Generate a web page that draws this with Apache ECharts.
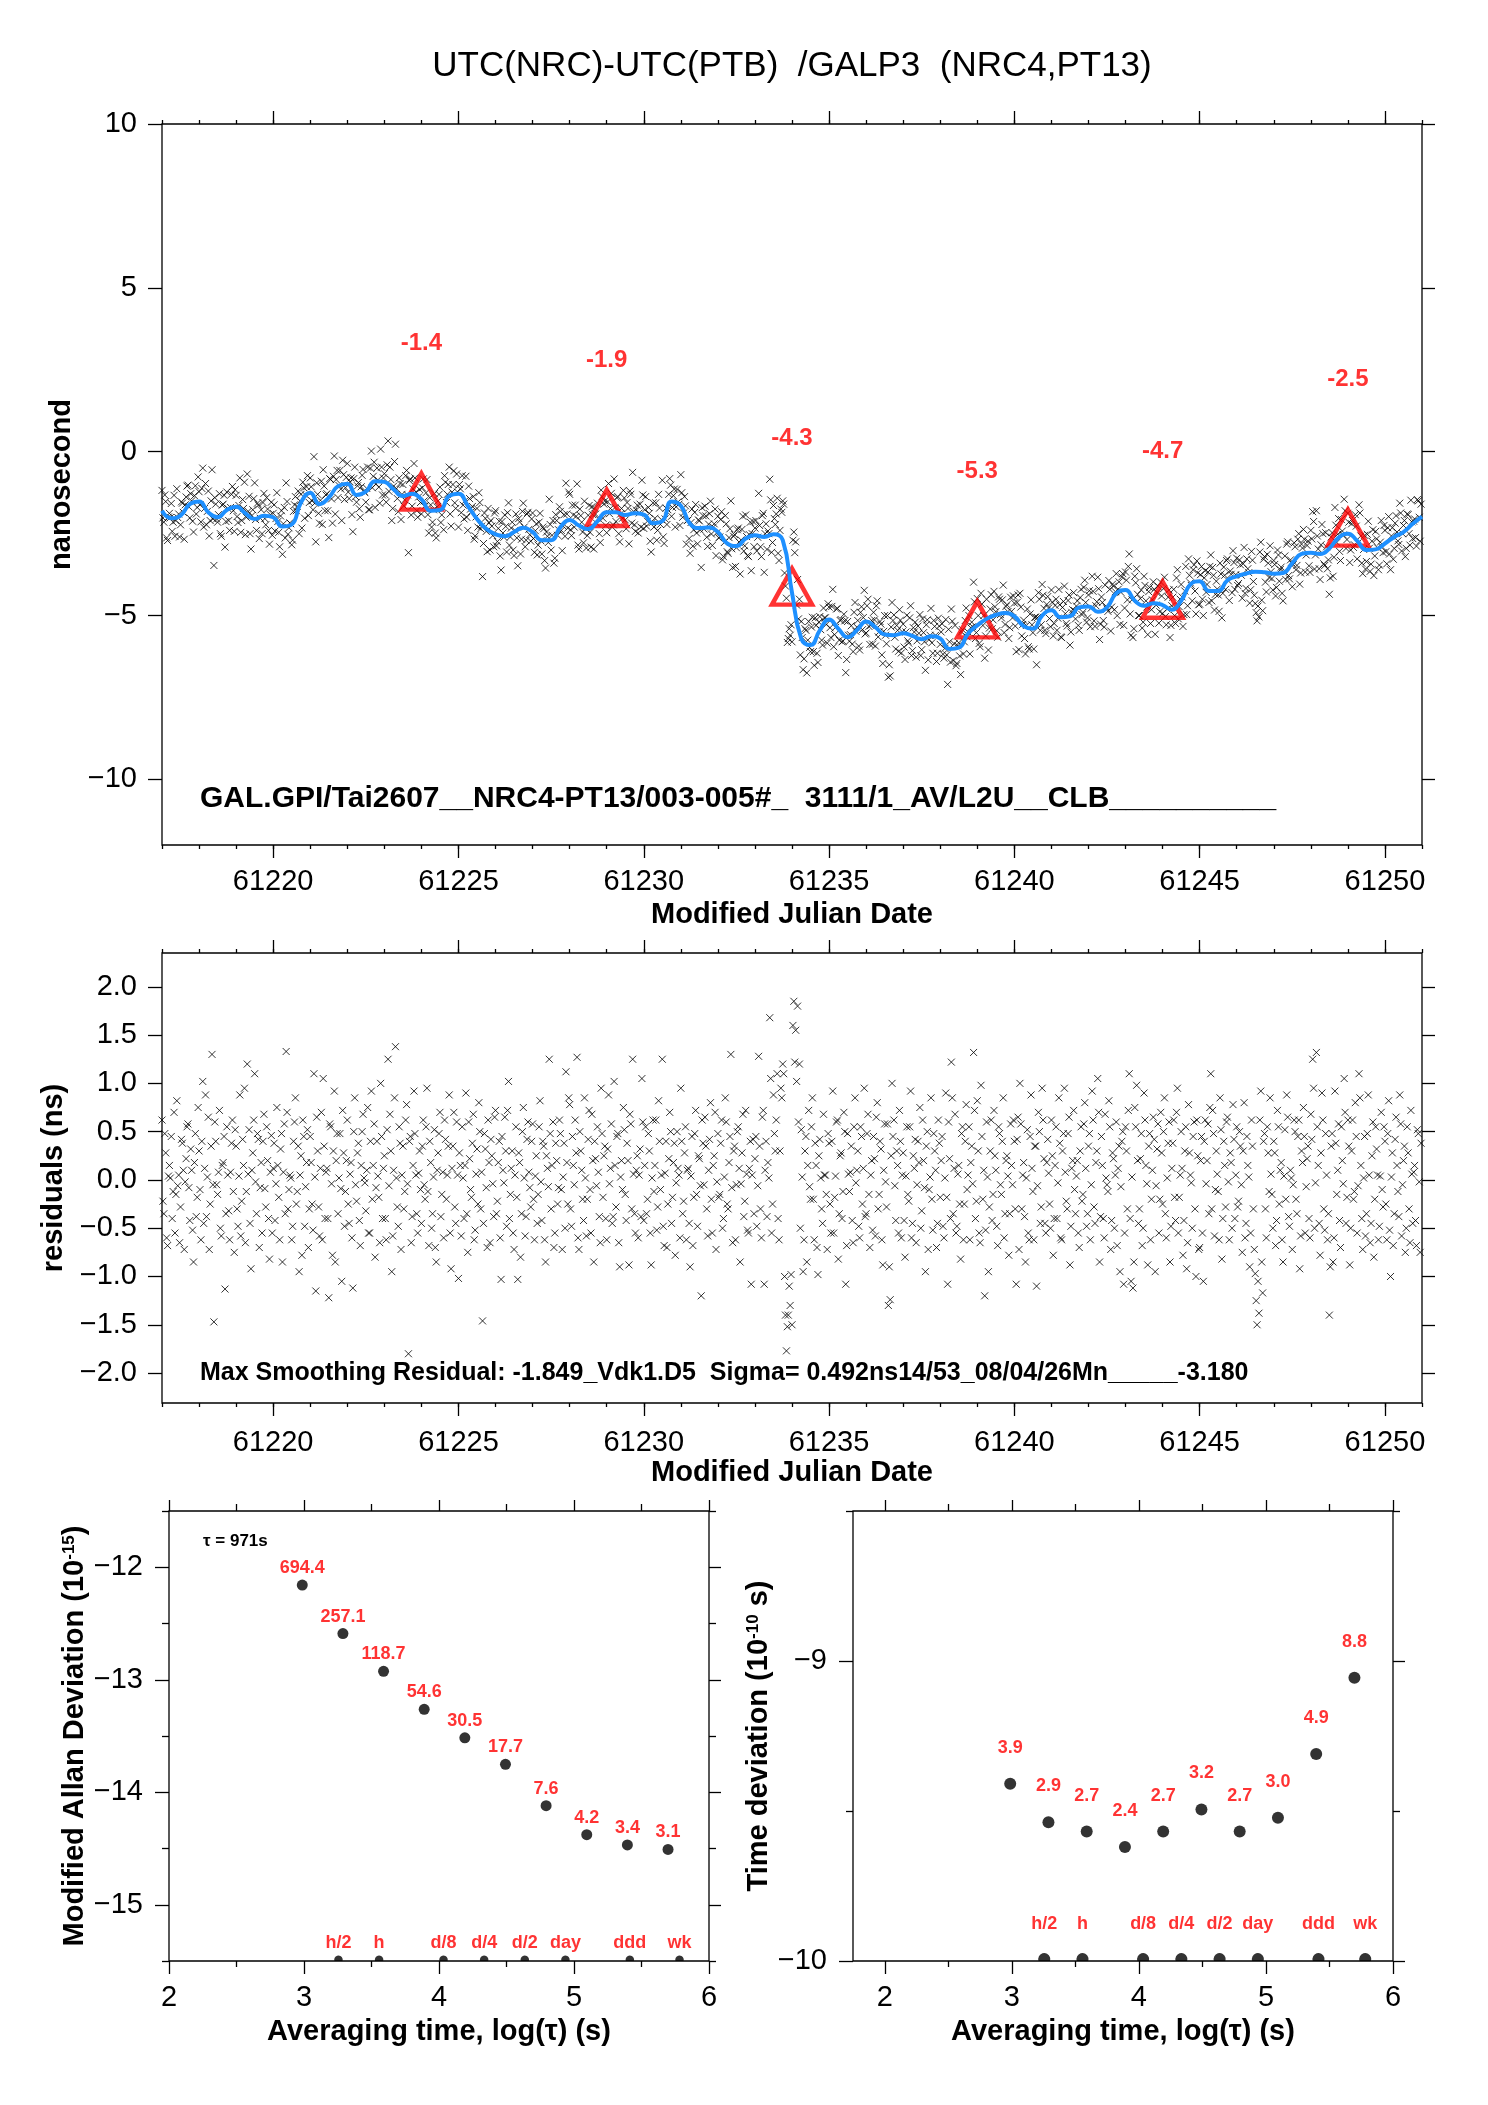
<!DOCTYPE html>
<html>
<head>
<meta charset="utf-8">
<script src="https://cdn.jsdelivr.net/npm/echarts@6.0.0/dist/echarts.min.js"></script>
<style>
  html, body { margin: 0; padding: 0; background: #fff; }
  #chart { width: 1488px; height: 2105px; }
</style>
</head>
<body>
<div id="chart"></div>
<script>
const FONT = '"Liberation Sans", Arial, Helvetica, sans-serif';

// sampling of the time series (MJD days)
const mjdStart = 61217;
const rawStep = 0.05;     // residual epochs: mjdStart + i*rawStep
const midShift = 0.025;   // second set of epochs, half a step later
const smoothStep = 0.25;

// smoothed UTC(NRC)-UTC(PTB), ns, one row per day
const smoothNs = [
  -1.80, -2.03, -1.95, -1.60,
  -1.52, -1.85, -2.00, -1.78,
  -1.68, -1.88, -2.05, -1.95,
  -2.00, -2.28, -2.22, -1.55,
  -1.25, -1.60, -1.40, -1.05,
  -0.98, -1.32, -1.22, -0.90,
  -0.92, -1.15, -1.35, -1.28,
  -1.45, -1.80, -1.78, -1.35,
  -1.28, -1.65, -2.05, -2.35,
  -2.52, -2.58, -2.45, -2.32,
  -2.45, -2.70, -2.70, -2.30,
  -2.08, -2.25, -2.36, -2.12,
  -1.85, -1.85, -1.93, -1.88,
  -1.92, -2.18, -2.12, -1.52,
  -1.65, -2.20, -2.33, -2.31,
  -2.45, -2.80, -2.88, -2.65,
  -2.55, -2.60, -2.52, -2.70,
  -4.30, -5.70, -5.90, -5.45,
  -5.12, -5.40, -5.66, -5.45,
  -5.18, -5.35, -5.58, -5.60,
  -5.54, -5.62, -5.72, -5.63,
  -5.70, -6.02, -5.98, -5.55,
  -5.30, -5.10, -4.98, -4.92,
  -5.02, -5.32, -5.40, -5.00,
  -4.84, -5.05, -5.02, -4.75,
  -4.72, -4.88, -4.75, -4.32,
  -4.22, -4.55, -4.70, -4.62,
  -4.68, -4.82, -4.55, -4.05,
  -3.95, -4.25, -4.25, -3.92,
  -3.80, -3.72, -3.66, -3.68,
  -3.72, -3.70, -3.40, -3.12,
  -3.08, -3.12, -2.95, -2.62,
  -2.50, -2.72, -3.00, -2.98,
  -2.80, -2.60, -2.45, -2.20,
  -1.98
];

// smoothing residuals, ns, one row per day (20 samples)
const residualNs = [
  0.62, -0.35, 0.28, -0.68, 0.15, 0.45, -0.12, -0.55, 0.82, 0.05, -0.28, 0.38, -0.72, 0.22, 0.58, -0.42, 0.10, -0.85, 0.48, -0.18,
  0.30, -0.62, 1.02, 0.12, -0.38, 0.65, -0.25, 1.30, -1.47, 0.40, -0.15, 0.72, -0.58, 0.18, -1.13, 0.55, -0.32, 0.08, 0.62, -0.75,
  0.35, -0.48, 0.88, -0.22, 0.15, -0.65, 1.20, 0.52, -0.92, 0.28, 1.10, -0.35, 0.42, -0.08, -0.55, 0.68, -0.28, 0.20, -0.82, 0.46,
  0.12, -0.42, 0.75, -0.18, 0.32, -0.85, 0.58, 1.33, -0.30, 0.05, -0.62, 0.40, 0.85, -0.12, -0.95, 0.25, 0.62, -0.48, 0.18, -0.70,
  0.45, -0.25, 1.10, -1.15, 0.30, -0.58, 0.70, 1.05, -0.40, 0.12, -1.22, 0.55, -0.78, 0.92, 0.20, -0.35, 0.48, -1.05, 0.28, -0.12,
  0.62, -0.45, 0.18, -1.12, 0.85, -0.22, 0.38, -0.68, 0.50, 0.02, -0.32, 0.75, -0.55, 0.92, 0.15, -0.80, 0.40, -0.18, 1.00, -0.40,
  0.25, -0.62, 1.25, 0.68, -0.95, 0.10, 1.38, -0.28, 0.55, -0.72, 0.35, -0.12, 0.78, -1.80, 0.45, -0.38, 0.92, 0.05, -0.55, 0.30,
  -0.45, 0.62, -0.20, 0.95, -0.68, 0.18, -0.35, 0.52, -0.85, 0.28, 0.70, -0.15, -0.60, 0.42, 0.05, 0.88, -0.92, 0.35, -0.28, 0.60,
  -1.02, 0.15, 0.55, -0.40, 0.90, -0.75, 0.22, -0.18, 0.68, -0.52, 0.32, 0.80, -0.30, -1.46, 0.48, -0.08, 0.62, -0.65, 0.25, -0.38,
  0.72, -0.22, 0.40, -1.03, 0.10, 0.65, -0.48, 1.02, -0.15, 0.30, -0.72, 0.55, -1.03, 0.18, -0.35, 0.75, -0.58, 0.42, 0.08, -0.28,
  0.58, -0.62, 0.25, -0.15, 0.82, -0.42, 0.35, -0.85, 0.12, 1.25, -0.30, 0.60, -0.55, 0.20, -0.08, 0.48, -0.72, 0.38, 1.12, -0.25,
  0.78, -0.48, 0.15, 0.62, 1.27, -0.72, 0.30, -0.20, 0.85, -0.58, 0.42, -0.10, 0.68, -0.85, 0.22, 0.55, -0.38, 0.95, -0.18, 0.35,
  -0.62, 0.88, 0.12, -0.45, 1.02, -0.28, 0.48, -0.90, 0.20, 0.75, -0.15, 0.38, -0.88, 0.58, 1.25, -0.35, 0.10, -0.60, 0.32, 1.05,
  -0.42, 0.55, -0.20, 0.30, -0.88, 0.62, 0.15, -0.52, 0.82, -0.10, 1.25, -0.68, 0.40, -0.25, 0.70, -0.45, 0.18, -0.78, 0.50, 0.05,
  0.95, -0.35, 0.28, -0.62, 0.12, -0.90, 0.45, -0.18, 0.72, -0.48, 0.22, -1.20, 0.38, 0.65, -0.30, 0.10, 0.80, -0.55, 0.25, -0.72,
  0.48, -0.15, 0.62, -0.40, 0.85, -0.25, 0.18, 1.30, -0.65, 0.35, -0.05, 0.55, -0.85, 0.28, -0.38, 0.72, -0.52, 0.12, -1.08, 0.42,
  0.22, -0.48, 1.28, -0.30, 0.65, -1.08, 0.40, 0.18, 1.68, -0.55, 0.88, 0.30, 1.10, -0.62, 0.95, 1.20, -1.00, -1.77, -1.40, -1.30,
  -1.50, 1.85, 1.55, 1.80, 1.20, 0.52, -0.95, 0.30, -0.85, 0.72, -0.20, 0.85, -0.62, 0.15, -0.98, 0.42, -0.30, 0.68, 0.05, -0.72,
  0.38, -0.55, 0.92, -0.18, 0.60, -0.82, 0.25, -0.40, 0.70, -1.08, 0.48, -0.12, 0.35, -0.65, 0.85, 0.10, -0.48, 0.55, -0.25, 0.95,
  -0.35, 0.68, -0.70, 0.20, 0.45, -0.58, 0.80, -0.15, 0.32, -0.88, 0.58, -0.28, -1.30, -1.24, 1.00, 0.62, -0.42, 0.15, 0.72, -0.60,
  0.28, -0.80, 0.55, -0.22, 0.92, -0.45, 0.12, -0.65, 0.40, 0.75, -0.32, 0.20, -0.95, 0.50, -0.10, 0.85, -0.52, 0.30, -0.70, 0.62,
  -0.18, 0.45, -0.60, 0.90, -1.08, 0.22, 1.22, -0.35, 0.68, -0.48, 0.15, -0.82, 0.55, -0.25, 0.78, 0.05, -0.62, 0.35, 1.32, -0.40,
  0.82, -0.55, 0.98, -0.20, -1.20, 0.60, -0.95, 0.30, -0.42, 0.72, 0.10, -0.68, 0.48, -0.15, 0.85, -0.35, 0.25, -0.78, 0.58, -0.05,
  0.40, -1.08, 0.65, 1.00, -0.30, 0.18, -0.85, 0.52, -0.62, 0.88, -0.12, 0.35, -1.10, 0.70, -0.45, 0.95, 0.22, -0.55, 0.42, -0.25,
  0.62, -0.78, 0.15, -0.40, 0.85, -0.60, 0.30, 0.95, -0.22, 0.48, -0.88, 0.12, 0.72, -0.35, 0.20, -0.70, 0.55, -0.15, 0.80, -0.48,
  0.35, -0.62, 0.92, -0.28, 0.18, 1.05, -0.85, 0.45, -0.40, 0.68, -0.05, 0.82, -0.72, 0.28, -0.50, 0.60, 0.12, -0.95, 0.40, -1.08,
  0.55, -0.30, 1.10, -1.05, -1.12, 0.75, 0.98, -0.45, 0.22, -0.68, 0.90, 0.15, -0.88, 0.48, -0.20, 0.65, -0.95, 0.32, -0.55, 0.70,
  -0.25, 0.85, -0.60, 0.38, -0.85, 0.12, 0.62, -0.42, 0.95, -0.18, 0.50, -0.78, 0.30, -0.92, 0.78, 0.05, -0.50, 0.60, -1.00, 0.25,
  -0.70, 0.45, -1.05, 0.62, 0.20, -0.35, 1.10, 0.72, -0.58, 0.30, -0.12, 0.85, -0.82, 0.40, -0.28, 0.65, -0.62, 0.18, 0.78, -0.40,
  0.55, -0.22, 0.35, -0.75, 0.80, -0.45, 0.15, -0.90, 0.62, -0.30, -0.97, -1.50, -1.38, 0.92, -1.17, 0.48, -0.60, 0.28, 0.85, -0.15,
  0.40, -0.68, 0.72, -0.25, 0.18, -0.85, 0.52, 0.88, -0.38, 0.10, -0.72, 0.62, -0.20, 0.45, -0.92, 0.30, 0.75, -0.55, 0.22, -0.40,
  0.68, 1.25, -0.50, 1.32, 0.15, -0.78, 0.90, -0.30, 0.48, -0.62, -1.40, 0.35, -0.85, 0.92, -0.15, 0.58, -0.70, 0.20, 1.05, -0.45,
  0.62, -0.88, 0.30, -0.20, 0.80, -0.55, 1.10, 0.15, -0.72, 0.45, -0.35, 0.88, -0.65, 0.25, -0.80, 0.55, 0.05, -0.48, 0.70, -0.28,
  0.40, -0.62, 0.82, -1.00, 0.28, -0.35, 0.65, -0.12, 0.88, -0.58, 0.20, -0.75, 0.55, -0.30, 0.72, -0.45, 0.15, -0.68, 0.48, -0.75
];

// residuals at the in-between epochs, ns, one row per day
const residualMidNs = [
  -0.22, 0.48, -0.60, 0.04, 0.02, -0.40, 0.70, -0.15, -0.06, -0.65, 0.42, 0.10, -0.02, 0.55, -0.08, 0.32, -0.52, 0.18, -0.38, 0.75,
  -0.10, 0.40, -0.45, 0.88, 0.03, -0.72, 0.35, -0.05, 0.60, -0.05, 0.08, -0.50, 0.15, 0.45, -0.35, 0.05, -0.62, 0.38, -0.12, 0.52,
  -0.30, 0.04, -0.58, 0.42, 0.95, -0.12, 0.06, -0.45, 0.10, 0.62, -0.02, 0.48, -0.70, 0.18, 0.40, -0.09, 0.55, -0.40, 0.08, -0.55,
  0.38, -0.04, 0.15, -0.62, 0.48, 0.08, -0.35, 0.70, -0.10, 0.02, -0.48, 0.60, -0.25, 0.35, 0.05, -0.78, 0.45, -0.07, 0.52, -0.30,
  0.18, -0.52, 0.03, 0.65, -0.28, 0.12, -0.62, 0.35, 0.08, -0.40, 0.58, -0.04, 0.30, -0.85, 0.48, 0.02, -0.09, 0.72, -0.48, 0.20,
  -0.25, 0.06, -0.60, 0.50, -0.05, 0.28, -0.42, 0.15, 0.68, -0.03, 0.10, -0.55, 0.40, -0.20, 0.58, -0.08, 0.04, -0.65, 0.45, 0.12,
  -0.40, 0.52, -0.06, 0.30, -0.58, 0.85, 0.02, -0.48, 0.38, 0.05, -0.30, 0.62, -0.04, 0.40, -0.65, 0.15, 0.48, -0.35, 0.07, -0.10,
  0.35, -0.05, 0.55, -0.12, 0.40, -0.50, 0.03, -0.70, 0.10, 0.48, -0.38, 0.08, 0.62, -0.20, 0.35, -0.55, 0.12, 0.70, -0.45, 0.05,
  0.28, -0.58, 0.02, 0.15, -0.35, 0.60, -0.10, 0.38, -0.62, 0.06, -0.25, 0.50, 0.08, -0.45, 0.32, -0.70, 0.18, 0.42, -0.04, 0.65,
  -0.35, 0.18, -0.60, 0.45, -0.03, 0.30, 0.72, -0.40, 0.12, -0.55, 0.05, -0.18, 0.28, -0.80, 0.50, 0.02, -0.38, 0.60, -0.08, 0.40,
  -0.20, 0.04, -0.45, 0.55, -0.02, 0.40, -0.62, 0.25, -0.07, 0.48, 0.15, -0.70, 0.38, -0.25, 0.62, -0.10, 0.03, -0.50, 0.18, 0.85,
  -0.30, 0.45, -0.05, 0.28, -0.60, 0.50, 0.10, -0.42, 0.02, -0.20, 0.72, -0.55, 0.20, 0.40, -0.06, 0.08, -0.65, 0.48, 0.25, -0.40,
  0.32, -0.04, 0.58, -0.38, 0.15, 0.45, -0.65, 0.03, -0.10, 0.52, -0.42, 0.20, 0.68, -0.30, 0.06, -0.55, 0.25, 0.05, -0.38, 0.60,
  0.15, -0.35, 0.48, -0.55, 0.02, -0.12, 0.62, -0.28, 0.40, 0.05, -0.48, 0.07, -0.70, 0.22, 0.50, -0.18, 0.38, -0.03, 0.12, -0.60,
  0.40, -0.22, 0.55, 0.10, -0.45, 0.04, -0.68, 0.48, -0.15, 0.25, -0.06, 0.62, -0.05, 0.35, -0.58, 0.42, -0.20, 0.15, 0.70, -0.02,
  -0.18, 0.38, -0.50, 0.03, 0.60, -0.30, 0.45, -0.08, 0.30, -0.62, 0.50, 0.12, -0.04, 0.68, -0.22, 0.06, -0.55, 0.40, 0.05, -0.35,
  0.45, -0.06, 0.35, -0.60, 0.72, 0.10, -0.38, 0.02, 1.05, -0.25, 0.48, 0.62, -0.40, 0.30, 0.85, 1.10, -1.40, -1.52, -1.10, -0.98,
  1.60, 1.22, 1.02, 0.60, -0.50, 0.03, -0.62, 0.45, 0.15, -0.07, 0.55, -0.20, 0.38, -0.70, 0.25, 0.02, -0.45, 0.05, -0.15, 0.48,
  -0.25, 0.40, -0.55, 0.04, 0.62, -0.35, 0.28, -0.12, 0.50, -0.68, 0.06, 0.08, -0.42, 0.55, -0.03, 0.30, -0.60, 0.45, 0.12, -0.38,
  0.48, -0.15, 0.05, -0.52, 0.22, 0.65, -0.30, 0.40, -0.62, 0.10, -0.02, 0.58, -0.90, 0.25, 0.45, -0.06, 0.30, -0.55, 0.40, 0.05,
  -0.42, 0.04, -0.15, 0.55, -0.60, 0.25, 0.42, -0.05, 0.18, -0.50, 0.62, -0.08, 0.35, -0.72, 0.03, -0.20, 0.48, 0.10, -0.45, 0.38,
  0.20, -0.48, 0.02, -0.18, 0.60, -0.40, 0.85, 0.12, -0.55, 0.06, -0.25, 0.48, -0.62, 0.40, -0.10, 0.55, 0.18, -0.04, 0.72, -0.22,
  0.30, -0.65, 0.45, 0.10, -0.52, 0.03, -0.28, 0.62, -0.15, 0.25, -0.48, 0.55, -0.05, 0.40, -0.60, 0.20, 0.04, -0.35, 0.15, 0.62,
  -0.30, 0.42, -0.72, 0.58, 0.05, -0.38, 0.02, -0.55, 0.45, 0.12, -0.62, 0.35, -0.06, 0.50, -0.28, 0.62, -0.45, 0.18, 0.07, -0.50,
  0.25, -0.40, 0.55, -0.03, 0.38, -0.62, 0.48, 0.08, -0.30, 0.65, -0.48, 0.20, -0.10, 0.04, -0.55, 0.30, -0.22, 0.58, 0.12, -0.35,
  0.48, -0.05, 0.62, -0.45, 0.30, 0.70, -0.38, 0.15, -0.60, 0.02, -0.12, 0.55, -0.42, 0.22, 0.05, -0.68, 0.35, -0.07, 0.50, -0.55,
  0.30, 0.72, -0.40, 0.03, -0.85, 0.55, 0.20, -0.30, 0.48, -0.50, 0.62, -0.04, 0.35, -0.62, 0.10, 0.42, -0.06, 0.58, -0.20, 0.28,
  0.50, -0.35, 0.02, 0.60, -0.48, 0.38, -0.18, 0.70, -0.55, 0.05, 0.12, -0.42, 0.55, -0.65, 0.28, -0.03, 0.45, -0.30, 0.62, -0.72,
  0.20, -0.55, 0.40, -0.04, 0.58, 0.75, -0.30, 0.48, -0.10, 0.06, -0.62, 0.52, -0.40, 0.15, 0.60, -0.02, 0.28, -0.50, 0.42, 0.05,
  -0.28, 0.50, -0.05, 0.30, -0.60, 0.45, 0.03, -0.55, 0.35, -0.72, -1.25, -1.05, 0.62, -0.85, 0.40, -0.30, 0.55, -0.12, 0.06, -0.50,
  0.28, -0.42, 0.55, 0.10, -0.62, 0.04, -0.20, 0.65, -0.48, 0.02, -0.05, 0.50, -0.35, 0.62, -0.58, 0.18, 0.45, -0.07, 0.35, -0.60,
  0.42, 0.95, -0.03, 0.55, -0.45, 0.28, 0.62, -0.52, 0.05, -0.35, -0.90, 0.48, -0.60, 0.38, 0.10, -0.42, 0.55, -0.04, 0.70, -0.18,
  0.35, -0.50, 0.62, -0.12, 0.45, -0.06, 0.85, -0.40, 0.02, -0.58, 0.48, 0.05, -0.45, 0.60, -0.20, 0.32, -0.62, 0.04, -0.10, 0.55,
  -0.25, 0.48, -0.52, 0.03, -0.68, 0.42, 0.15, -0.38, 0.58, -0.05, 0.35, -0.50, 0.28, -0.65, 0.06, 0.08, -0.42, 0.52, -0.02, 0.38
];

// daily means marked with triangles
const triMjd = [61224, 61229, 61234, 61239, 61244, 61249];
const triNs = [-1.4, -1.9, -4.3, -5.3, -4.7, -2.5];

// stability analysis
const tauSec = [971, 1942, 3884, 7768, 15536, 31072, 62144, 124288, 248576, 497152];
const mdev = [694.4, 257.1, 118.7, 54.6, 30.5, 17.7, 7.6, 4.2, 3.4, 3.1];     // 1e-15
const tdev = [3.9, 2.9, 2.7, 2.4, 2.7, 3.2, 2.7, 3.0, 4.9, 8.8];               // 1e-10 s
const markNames = ['h/2', 'h', 'd/8', 'd/4', 'd/2', 'day', 'ddd', 'wk'];
const markSec = [1800, 3600, 10800, 21600, 43200, 86400, 259200, 604800];

// tick labels
const mjdLabels = [61220, 61225, 61230, 61235, 61240, 61245, 61250];
const nsLabels = [-10, -5, 0, 5, 10];
const resLabels = [-2, -1.5, -1, -0.5, 0, 0.5, 1, 1.5, 2];
const logLabels = [2, 3, 4, 5, 6];
const logHalf = [2.5, 3.5, 4.5, 5.5];
const mdevLabels = [-15, -14, -13, -12];
const mdevHalf = [-15.5, -14.5, -13.5, -12.5, -11.5];
const tdevLabels = [-10, -9];
const tdevHalf = [-9.5, -8.5];

const mjdDays = [];
for (let d = 61217; d <= 61251; d++) mjdDays.push(d);

const minus = v => String(v).replace('-', '\u2212');

const xAxis = [];
const yAxis = [];
function axis(list, gridIndex, position, min, max, ticks, len, label) {
  list.push({
    type: 'value', gridIndex, position, min, max,
    axisLine: { show: false, onZero: false },
    splitLine: { show: false },
    axisTick: { show: true, length: len, customValues: ticks, lineStyle: { color: '#000', width: 1.3 } },
    axisLabel: label
      ? Object.assign({ customValues: ticks, color: '#000', fontFamily: FONT, fontSize: 29, formatter: v => String(v) }, label)
      : { show: false }
  });
  return list.length - 1;
}
function named(list, idx, name, gap, rich) {
  Object.assign(list[idx], {
    name, nameLocation: 'middle', nameGap: gap,
    nameTextStyle: { color: '#000', fontFamily: FONT, fontSize: 29, fontWeight: 'bold', rich: rich }
  });
}
const supRich = { sup: { fontFamily: FONT, fontSize: 17, fontWeight: 'bold', color: '#000', verticalAlign: 'top' } };

// grid 0 : offsets
const x0 = axis(xAxis, 0, 'bottom', 61217, 61251, mjdLabels, 13, { margin: 22 });
axis(xAxis, 0, 'bottom', 61217, 61251, mjdDays, 4);
axis(xAxis, 0, 'top', 61217, 61251, mjdLabels, 13);
axis(xAxis, 0, 'top', 61217, 61251, mjdDays, 4);
const y0 = axis(yAxis, 0, 'left', -12, 10, nsLabels, 14, { margin: 25, formatter: minus });
axis(yAxis, 0, 'right', -12, 10, nsLabels, 13);
named(xAxis, x0, 'Modified Julian Date', 55);
named(yAxis, y0, 'nanosecond', 75);

// grid 1 : residuals
const x1 = axis(xAxis, 1, 'bottom', 61217, 61251, mjdLabels, 13, { margin: 25 });
axis(xAxis, 1, 'bottom', 61217, 61251, mjdDays, 4);
axis(xAxis, 1, 'top', 61217, 61251, mjdLabels, 13);
axis(xAxis, 1, 'top', 61217, 61251, mjdDays, 4);
const y1 = axis(yAxis, 1, 'left', -2.31, 2.35, resLabels, 14, { margin: 25, formatter: v => minus(v.toFixed(1)) });
axis(yAxis, 1, 'right', -2.31, 2.35, resLabels, 13);
named(xAxis, x1, 'Modified Julian Date', 55);
named(yAxis, y1, 'residuals (ns)', 88);

// grid 2 : modified Allan deviation
const x2 = axis(xAxis, 2, 'bottom', 2, 6, logLabels, 13, { margin: 22 });
axis(xAxis, 2, 'bottom', 2, 6, logHalf, 6);
axis(xAxis, 2, 'top', 2, 6, logLabels, 11);
axis(xAxis, 2, 'top', 2, 6, logHalf, 7);
const y2 = axis(yAxis, 2, 'left', -15.5, -11.5, mdevLabels, 14, { margin: 26, formatter: minus });
axis(yAxis, 2, 'left', -15.5, -11.5, mdevHalf, 7);
axis(yAxis, 2, 'right', -15.5, -11.5, mdevLabels, 12);
axis(yAxis, 2, 'right', -15.5, -11.5, mdevHalf, 7);
named(xAxis, x2, 'Averaging time, log(\u03c4) (s)', 56);
named(yAxis, y2, 'Modified Allan Deviation (10{sup|-15})', 78, supRich);

// grid 3 : time deviation
const x3 = axis(xAxis, 3, 'bottom', 1.75, 6, logLabels, 13, { margin: 22 });
axis(xAxis, 3, 'bottom', 1.75, 6, logHalf, 6);
axis(xAxis, 3, 'top', 1.75, 6, logLabels, 11);
axis(xAxis, 3, 'top', 1.75, 6, logHalf, 7);
const y3 = axis(yAxis, 3, 'left', -10, -8.5, tdevLabels, 14, { margin: 26, formatter: minus });
axis(yAxis, 3, 'left', -10, -8.5, tdevHalf, 7);
axis(yAxis, 3, 'right', -10, -8.5, tdevLabels, 12);
axis(yAxis, 3, 'right', -10, -8.5, tdevHalf, 7);
named(xAxis, x3, 'Averaging time, log(\u03c4) (s)', 56);
named(yAxis, y3, 'Time deviation (10{sup|-10} s)', 78, supRich);

// series data
const epoch = (i, shift) => mjdStart + shift + i * rawStep;
const baseline = t => smoothNs[Math.round((t - mjdStart) / smoothStep)];
const resPts = residualNs.map((r, i) => [epoch(i, 0), r])
  .concat(residualMidNs.map((r, i) => [epoch(i, midShift), r]));
const rawPts = resPts.map(p => [p[0], baseline(p[0]) + p[1]]);
const smoothPts = smoothNs.map((v, i) => [mjdStart + i * smoothStep, v]);
const triPts = triMjd.map((m, i) => ({ value: [m, triNs[i]], name: triNs[i].toFixed(1) }));
const mdevPts = tauSec.map((t, i) => ({ value: [Math.log10(t), Math.log10(mdev[i]) - 15], name: mdev[i].toFixed(1) }));
const tdevPts = tauSec.map((t, i) => ({ value: [Math.log10(t), Math.log10(tdev[i]) - 10], name: tdev[i].toFixed(1) }));
const markPtsL = markSec.map((s, i) => ({ value: [Math.log10(s), -15.5], name: markNames[i] }));
const markPtsR = markSec.map((s, i) => ({ value: [Math.log10(s), -10], name: markNames[i] }));

const CROSS = 'path://M0,0L10,10M10,0L0,10';
const CAP = 'path://M0.46,13A10,10,0,1,1,19.54,13Z';
const crossStyle = { color: 'rgba(0,0,0,0)', borderColor: '#000', borderWidth: 1 };
const redLabel = (size, dy) => ({
  show: true, position: 'inside', offset: [0, dy], formatter: '{b}',
  color: '#ff0000', fontFamily: FONT, fontWeight: 'bold', fontSize: size
});

const chart = echarts.init(document.getElementById('chart'), null, { renderer: 'canvas' });
chart.setOption({
  animation: false,
  backgroundColor: '#fff',
  grid: [
    { left: 162, top: 124, width: 1260, height: 721 },
    { left: 162, top: 953, width: 1260, height: 450 },
    { left: 169, top: 1511, width: 540, height: 450 },
    { left: 853, top: 1511, width: 540, height: 450 }
  ].map(g => Object.assign({ show: true, borderColor: '#000', borderWidth: 1.3, outerBoundsMode: 'none' }, g)),
  xAxis,
  yAxis,
  graphic: [
    { type: 'text', x: 792, y: 66, style: { text: 'UTC(NRC)-UTC(PTB)  /GALP3  (NRC4,PT13)', font: '35px ' + FONT, fill: '#000', align: 'center', verticalAlign: 'middle' } },
    { type: 'text', x: 200, y: 799, style: { text: 'GAL.GPI/Tai2607__NRC4-PT13/003-005#_  3111/1_AV/L2U__CLB__________', font: 'bold 30px ' + FONT, fill: '#000', align: 'left', verticalAlign: 'middle' } },
    { type: 'text', x: 200, y: 1373, style: { text: 'Max Smoothing Residual: -1.849_Vdk1.D5  Sigma= 0.492ns14/53_08/04/26Mn_____-3.180', font: 'bold 25px ' + FONT, fill: '#000', align: 'left', verticalAlign: 'middle' } },
    { type: 'text', x: 203, y: 1541, style: { text: '\u03c4 = 971s', font: 'bold 17px ' + FONT, fill: '#000', align: 'left', verticalAlign: 'middle' } }
  ],
  series: [
    { type: 'scatter', xAxisIndex: x0, yAxisIndex: y0, data: rawPts, symbol: CROSS, symbolSize: 7, itemStyle: crossStyle, silent: true },
    { type: 'line', xAxisIndex: x0, yAxisIndex: y0, data: smoothPts, smooth: 0.5, showSymbol: false, symbol: 'none',
      lineStyle: { color: '#1e90ff', width: 4 }, silent: true },
    { type: 'scatter', xAxisIndex: x0, yAxisIndex: y0, data: triPts, symbol: 'triangle', symbolSize: [40, 36], symbolOffset: [0, -6],
      itemStyle: { color: 'rgba(0,0,0,0)', borderColor: '#ff0000', borderWidth: 4.5 }, label: redLabel(24, -148), silent: true },
    { type: 'scatter', xAxisIndex: x1, yAxisIndex: y1, data: resPts, symbol: CROSS, symbolSize: 7, itemStyle: crossStyle, silent: true },
    { type: 'scatter', xAxisIndex: x2, yAxisIndex: y2, data: mdevPts, symbol: 'circle', symbolSize: 11,
      itemStyle: { color: '#000' }, label: redLabel(18, -17), silent: true },
    { type: 'scatter', xAxisIndex: x2, yAxisIndex: y2, data: markPtsL, symbol: CAP, symbolSize: [8.5, 5.5], symbolOffset: [0, -2.75],
      itemStyle: { color: '#000' }, label: redLabel(18, -15), silent: true, clip: false },
    { type: 'scatter', xAxisIndex: x3, yAxisIndex: y3, data: tdevPts, symbol: 'circle', symbolSize: 12,
      itemStyle: { color: '#000' }, label: redLabel(18, -36), silent: true },
    { type: 'scatter', xAxisIndex: x3, yAxisIndex: y3, data: markPtsR, symbol: CAP, symbolSize: [12, 8], symbolOffset: [0, -4],
      itemStyle: { color: '#000' }, label: redLabel(18, -33), silent: true, clip: false }
  ]
});
</script>
</body>
</html>
